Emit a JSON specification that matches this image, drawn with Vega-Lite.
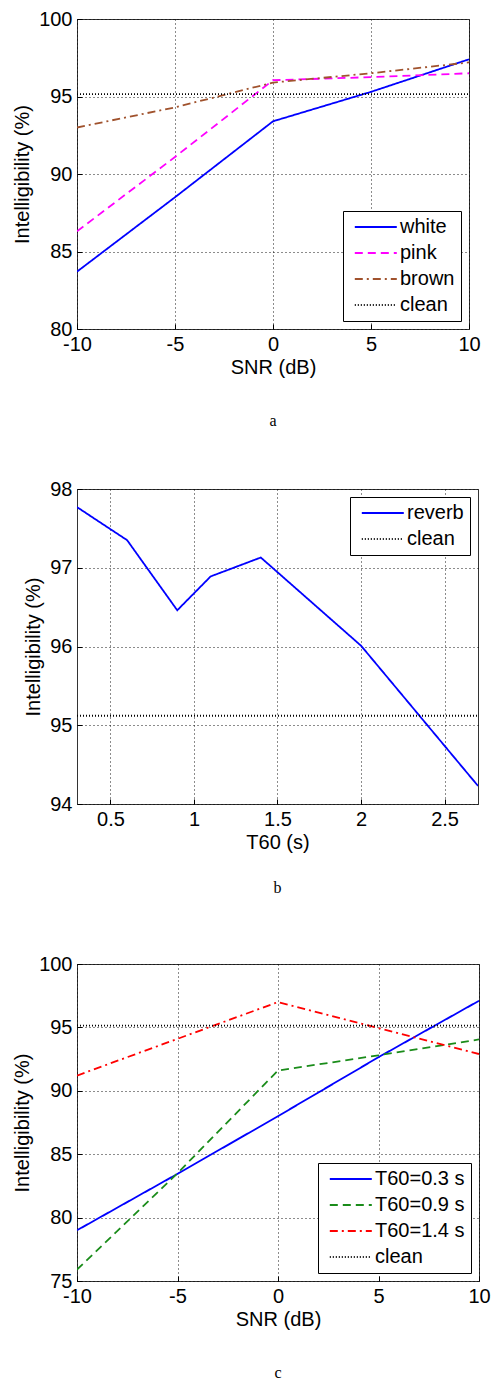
{
  "$schema": "https://vega.github.io/schema/vega-lite/v6.json",
  "padding": {"left": 12, "top": 8, "right": 5, "bottom": 0},
  "background": "#ffffff",
  "config": {
    "font": "Liberation Sans",
    "view": {"stroke": "#333333", "strokeWidth": 1},
    "axis": {
      "domain": false,
      "grid": true,
      "gridColor": "#000000",
      "gridDash": [1, 3],
      "gridWidth": 1,
      "gridOpacity": 0.9,
      "ticks": true,
      "tickColor": "#000000",
      "tickSize": -5,
      "labelPadding": 10,
      "labelFontSize": 20,
      "labelColor": "#000000",
      "labelFlush": false,
      "labelOverlap": false,
      "labelExpr": "toString(datum.value)",
      "titleFontSize": 20,
      "titleFontWeight": "normal",
      "titleColor": "#000000"
    },
    "axisX": {"titlePadding": 3},
    "axisY": {"titlePadding": 6},
    "legend": {
      "strokeColor": "#000000",
      "fillColor": "#ffffff",
      "padding": 6,
      "offset": 8,
      "cornerRadius": 0,
      "labelFontSize": 20,
      "labelColor": "#000000",
      "symbolType": "M-0.6,0H5.4",
      "symbolSize": 196,
      "symbolStrokeWidth": 2,
      "labelOffset": 31,
      "rowPadding": 6
    },
    "title": {"font": "Liberation Serif", "fontSize": 16, "fontWeight": "normal", "orient": "bottom", "color": "#000000", "offset": 36}
  },
  "columns": 1,
  "align": "none",
  "spacing": 48,
  "resolve": {
    "scale": {"color": "independent", "strokeDash": "independent", "strokeWidth": "independent"},
    "legend": {"color": "independent", "strokeDash": "independent"}
  },
  "concat": [
    {
      "width": 392,
      "height": 310,
      "title": {"text": "a"},
      "data": {"values": [
        {"series": "white", "snr": -10, "intel": 83.7},
        {"series": "white", "snr": -5, "intel": 88.5},
        {"series": "white", "snr": 0, "intel": 93.4},
        {"series": "white", "snr": 5, "intel": 95.3},
        {"series": "white", "snr": 10, "intel": 97.4},
        {"series": "pink", "snr": -10, "intel": 86.3},
        {"series": "pink", "snr": -5, "intel": 91.1},
        {"series": "pink", "snr": 0, "intel": 96.05},
        {"series": "pink", "snr": 5, "intel": 96.25},
        {"series": "pink", "snr": 10, "intel": 96.5},
        {"series": "brown", "snr": -10, "intel": 93.0},
        {"series": "brown", "snr": -5, "intel": 94.3},
        {"series": "brown", "snr": 0, "intel": 95.9},
        {"series": "brown", "snr": 5, "intel": 96.5},
        {"series": "brown", "snr": 10, "intel": 97.2},
        {"series": "clean", "snr": -10, "intel": 95.15},
        {"series": "clean", "snr": 10, "intel": 95.15}
      ]},
      "mark": {"type": "line", "clip": true},
      "encoding": {
        "x": {"field": "snr", "type": "quantitative", "scale": {"domain": [-10, 10], "nice": false}, "axis": {"values": [-10, -5, 0, 5, 10], "title": "SNR (dB)"}},
        "y": {"field": "intel", "type": "quantitative", "scale": {"domain": [80, 100], "nice": false, "zero": false}, "axis": {"values": [80, 85, 90, 95, 100], "title": "Intelligibility (%)"}},
        "color": {"field": "series", "type": "nominal", "scale": {"domain": ["white", "pink", "brown", "clean"], "range": ["#0000ff", "#ff00ff", "#a0522d", "#000000"]}, "legend": {"orient": "bottom-right", "title": null}},
        "strokeDash": {"field": "series", "type": "nominal", "scale": {"domain": ["white", "pink", "brown", "clean"], "range": [[1, 0], [8, 5], [8, 4, 2, 4], [1, 2]]}, "legend": {"orient": "bottom-right", "title": null}},
        "strokeWidth": {"field": "series", "type": "nominal", "scale": {"domain": ["white", "pink", "brown", "clean"], "range": [1.8, 1.8, 1.8, 2]}, "legend": null}
      }
    },
    {
      "width": 401,
      "height": 315,
      "title": {"text": "b", "offset": 28, "subtitle": " ", "subtitleFontSize": 8, "subtitlePadding": 0},
      "data": {"values": [
        {"series": "reverb", "t60": 0.3, "intel": 97.77},
        {"series": "reverb", "t60": 0.6, "intel": 97.35},
        {"series": "reverb", "t60": 0.9, "intel": 96.46},
        {"series": "reverb", "t60": 1.1, "intel": 96.89},
        {"series": "reverb", "t60": 1.4, "intel": 97.13},
        {"series": "reverb", "t60": 2.0, "intel": 96.01},
        {"series": "reverb", "t60": 2.7, "intel": 94.23},
        {"series": "clean", "t60": 0.3, "intel": 95.12},
        {"series": "clean", "t60": 2.7, "intel": 95.12}
      ]},
      "mark": {"type": "line", "clip": true},
      "encoding": {
        "x": {"field": "t60", "type": "quantitative", "scale": {"domain": [0.3, 2.7], "nice": false, "zero": false}, "axis": {"values": [0.5, 1, 1.5, 2, 2.5], "title": "T60 (s)"}},
        "y": {"field": "intel", "type": "quantitative", "scale": {"domain": [94, 98], "nice": false, "zero": false}, "axis": {"values": [94, 95, 96, 97, 98], "title": "Intelligibility (%)"}},
        "color": {"field": "series", "type": "nominal", "scale": {"domain": ["reverb", "clean"], "range": ["#0000ff", "#000000"]}, "legend": {"orient": "top-right", "title": null}},
        "strokeDash": {"field": "series", "type": "nominal", "scale": {"domain": ["reverb", "clean"], "range": [[1, 0], [1, 2]]}, "legend": {"orient": "top-right", "title": null}},
        "strokeWidth": {"field": "series", "type": "nominal", "scale": {"domain": ["reverb", "clean"], "range": [1.8, 2]}, "legend": null}
      }
    },
    {
      "width": 402,
      "height": 317,
      "title": {"text": "c"},
      "data": {"values": [
        {"series": "T60=0.3 s", "snr": -10, "intel": 79.0},
        {"series": "T60=0.3 s", "snr": -5, "intel": 83.45},
        {"series": "T60=0.3 s", "snr": 0, "intel": 88.0},
        {"series": "T60=0.3 s", "snr": 5, "intel": 92.65},
        {"series": "T60=0.3 s", "snr": 10, "intel": 97.1},
        {"series": "T60=0.9 s", "snr": -10, "intel": 75.9},
        {"series": "T60=0.9 s", "snr": -5, "intel": 83.5},
        {"series": "T60=0.9 s", "snr": 0, "intel": 91.6},
        {"series": "T60=0.9 s", "snr": 5, "intel": 92.8},
        {"series": "T60=0.9 s", "snr": 10, "intel": 94.05},
        {"series": "T60=1.4 s", "snr": -10, "intel": 91.2},
        {"series": "T60=1.4 s", "snr": -5, "intel": 94.1},
        {"series": "T60=1.4 s", "snr": 0, "intel": 97.0},
        {"series": "T60=1.4 s", "snr": 5, "intel": 94.95},
        {"series": "T60=1.4 s", "snr": 10, "intel": 92.9},
        {"series": "clean", "snr": -10, "intel": 95.14},
        {"series": "clean", "snr": 10, "intel": 95.14}
      ]},
      "mark": {"type": "line", "clip": true},
      "encoding": {
        "x": {"field": "snr", "type": "quantitative", "scale": {"domain": [-10, 10], "nice": false}, "axis": {"values": [-10, -5, 0, 5, 10], "title": "SNR (dB)"}},
        "y": {"field": "intel", "type": "quantitative", "scale": {"domain": [75, 100], "nice": false, "zero": false}, "axis": {"values": [75, 80, 85, 90, 95, 100], "title": "Intelligibility (%)"}},
        "color": {"field": "series", "type": "nominal", "scale": {"domain": ["T60=0.3 s", "T60=0.9 s", "T60=1.4 s", "clean"], "range": ["#0000ff", "#1a8c1a", "#ff0000", "#000000"]}, "legend": {"orient": "bottom-right", "title": null}},
        "strokeDash": {"field": "series", "type": "nominal", "scale": {"domain": ["T60=0.3 s", "T60=0.9 s", "T60=1.4 s", "clean"], "range": [[1, 0], [8, 5], [8, 4, 2, 4], [1, 2]]}, "legend": {"orient": "bottom-right", "title": null}},
        "strokeWidth": {"field": "series", "type": "nominal", "scale": {"domain": ["T60=0.3 s", "T60=0.9 s", "T60=1.4 s", "clean"], "range": [1.8, 1.8, 1.8, 2]}, "legend": null}
      }
    }
  ]
}
